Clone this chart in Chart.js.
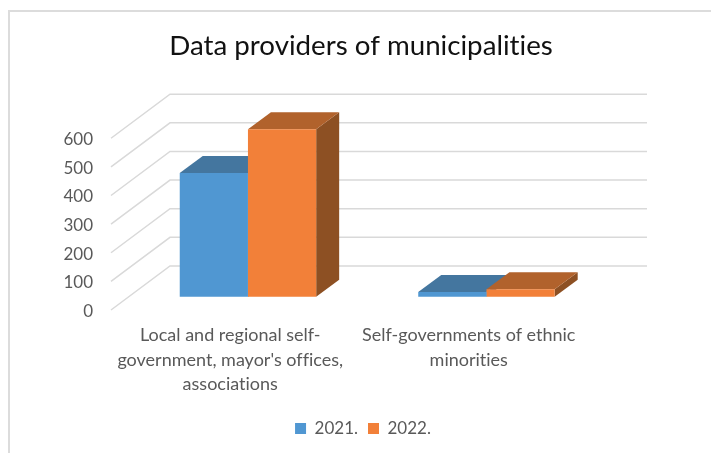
<!DOCTYPE html>
<html>
<head>
<meta charset="utf-8">
<title>Data providers of municipalities</title>
<script src="https://cdn.jsdelivr.net/npm/chart.js@4"></script>
<style>
  html, body { margin: 0; padding: 0; background: #fff; overflow: hidden; width: 711px; height: 453px; }
  #box { position: absolute; left: 8px; top: 10px; width: 702px; height: 441px; border-left: 2px solid #dcdcdc; border-top: 2px solid #dcdcdc; }
  canvas { display: block; }
</style>
</head>
<body>
<div id="box"><canvas id="providers" width="702" height="441"></canvas></div>
<script>
var categories = [
  ['Local and regional self-', "government, mayor's offices,", 'associations'],
  ['Self-governments of ethnic', 'minorities']
];
var values2021 = [432, 16];
var values2022 = [585, 26];
var yTicks = [0, 100, 200, 300, 400, 500, 600];

var fontName = 'Lato, "Open Sans", sans-serif';
var textColor = '#595959';

// 3D look: back wall offset and how far the bars sit into the floor
var wallDx = 59, wallDy = 44;
var barShiftX = 17.7, barShiftY = 13.3;
var barDx = 23, barDy = 17;

var shades = [
  { top: '#44769f', side: '#375f80' },
  { top: '#b1622c', side: '#8d5023' }
];

function face(ctx, color, pts) {
  ctx.fillStyle = color;
  ctx.beginPath();
  ctx.moveTo(pts[0][0], pts[0][1]);
  for (var i = 1; i < pts.length; i++) ctx.lineTo(pts[i][0], pts[i][1]);
  ctx.closePath();
  ctx.fill();
}

var box3d = {
  id: 'box3d',
  // legend sits a little right of the centre
  afterLayout: function(chart) {
    chart.legend.left += 2;
    chart.legend.right += 2;
  },
  // no "ti" ligature in the labels
  beforeDraw: function(chart) {
    chart.ctx.textRendering = 'optimizeSpeed';
  },
  beforeDatasetsDraw: function(chart) {
    var ctx = chart.ctx, y = chart.scales.y, area = chart.chartArea;
    // wall and floor lines
    ctx.save();
    ctx.strokeStyle = '#d9d9d9';
    ctx.lineWidth = 1.5;
    y.ticks.forEach(function(t) {
      var py = y.getPixelForValue(t.value);
      ctx.beginPath();
      ctx.moveTo(area.left, py);
      ctx.lineTo(area.left + wallDx, py - wallDy);
      ctx.lineTo(area.right + wallDx, py - wallDy);
      ctx.stroke();
    });
    ctx.restore();

    // shift the bars back onto the floor, top and side faces first so the
    // front faces drawn by the library cover them
    ctx.save();
    ctx.translate(barShiftX, -barShiftY);
    chart.data.datasets.forEach(function(ds, i) {
      chart.getDatasetMeta(i).data.forEach(function(bar) {
        var p = bar.getProps(['x', 'y', 'base', 'width'], true);
        var l = p.x - p.width / 2, r = p.x + p.width / 2;
        face(ctx, shades[i].side, [[r, p.y], [r + barDx, p.y - barDy], [r + barDx, p.base - barDy], [r, p.base]]);
        face(ctx, shades[i].top, [[l, p.y], [l + barDx, p.y - barDy], [r + barDx, p.y - barDy], [r, p.y]]);
      });
    });
  },
  afterDatasetsDraw: function(chart) {
    chart.ctx.restore();
  }
};

new Chart(document.getElementById('providers').getContext('2d'), {
  type: 'bar',
  data: {
    labels: categories,
    datasets: [
      { label: '2021.', data: values2021, backgroundColor: '#5097d2', clip: false },
      { label: '2022.', data: values2022, backgroundColor: '#f28039', clip: false }
    ]
  },
  plugins: [box3d],
  options: {
    responsive: false,
    animation: false,
    devicePixelRatio: 1,
    categoryPercentage: 0.572,
    barPercentage: 1,
    layout: { padding: { bottom: 6 } },
    plugins: {
      title: {
        display: true,
        text: 'Data providers of municipalities',
        color: '#111',
        font: { family: fontName, size: 27.7, weight: 'normal', lineHeight: 1.2 },
        padding: { top: 17, bottom: 76 }
      },
      legend: {
        position: 'bottom',
        labels: {
          color: textColor,
          font: { family: fontName, size: 17 },
          boxWidth: 11,
          boxHeight: 11,
          padding: 10
        }
      },
      tooltip: { enabled: false }
    },
    scales: {
      x: {
        grid: { display: false, drawTicks: false },
        border: { display: false },
        ticks: {
          color: textColor,
          font: { family: fontName, size: 18, lineHeight: 1.36 },
          padding: 13,
          maxRotation: 0,
          autoSkip: false
        },
        afterFit: function(s) { s.height = 100; }
      },
      y: {
        min: 0,
        max: 600,
        afterBuildTicks: function(s) { s.ticks = yTicks.map(function(v) { return { value: v }; }); },
        grid: { display: false, drawTicks: false },
        border: { display: false },
        ticks: {
          color: textColor,
          font: { family: fontName, size: 17 },
          padding: 18,
          labelOffset: 1.5
        },
        afterFit: function(s) { s.width = 101; }
      },
      // empty axis that only reserves the room right of the floor
      gap: {
        position: 'right',
        grid: { display: false, drawTicks: false },
        border: { display: false },
        ticks: { display: false },
        afterFit: function(s) { s.width = 124; }
      }
    }
  }
});
</script>
</body>
</html>
